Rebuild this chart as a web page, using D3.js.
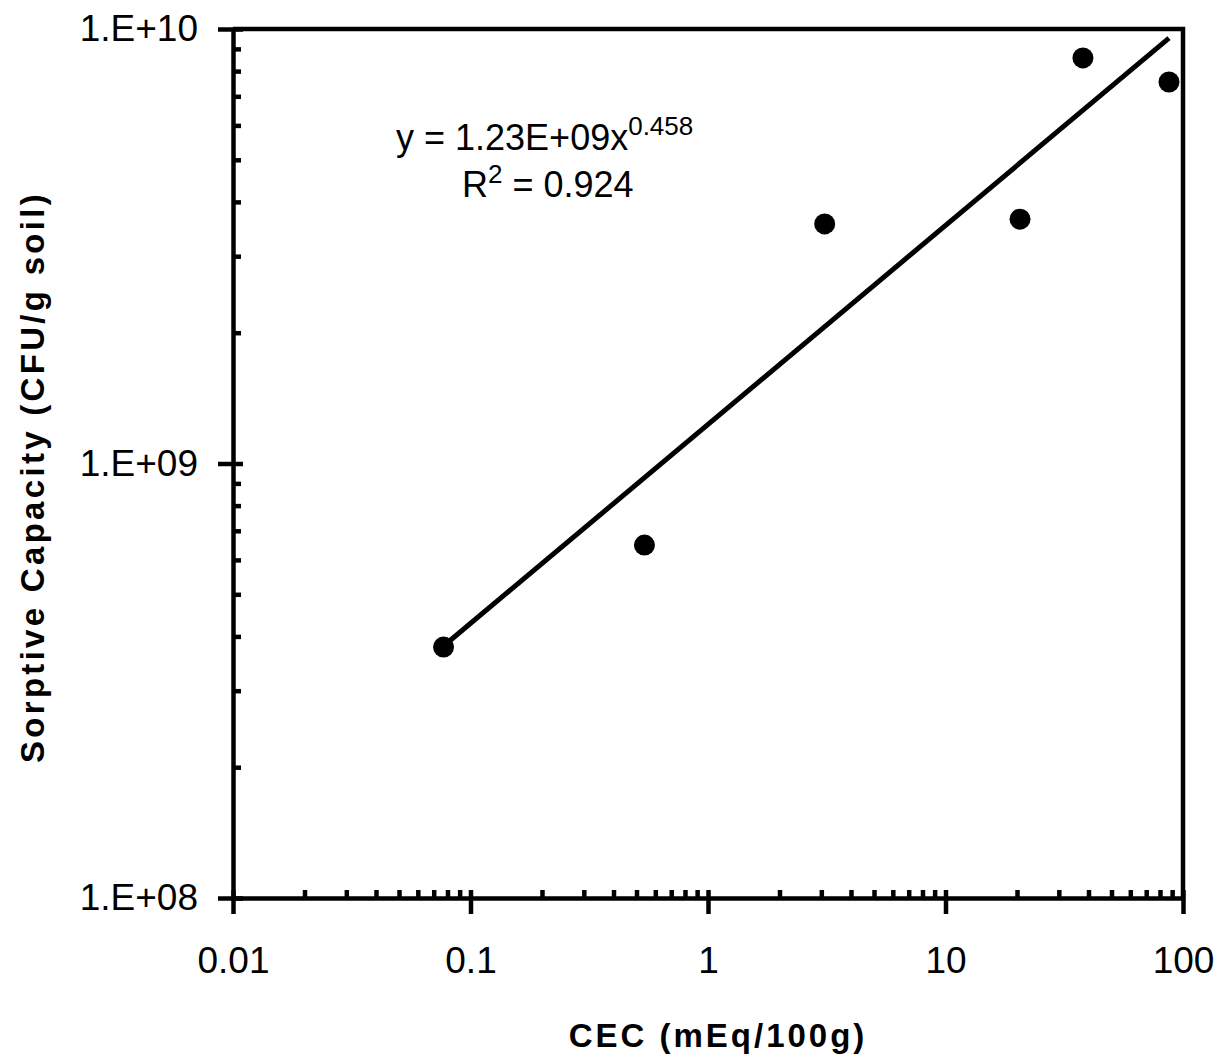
<!DOCTYPE html>
<html lang="en">
<head>
<meta charset="UTF-8">
<title>Sorptive Capacity vs CEC</title>
<script src="https://d3js.org/d3.v7.min.js"></script>
<style>
  body, html { margin: 0; padding: 0; background: #fff; overflow: hidden; }
  text { font-family: "Liberation Sans", Arial, sans-serif; fill: #000; }
  .axis path, .axis line { stroke: #000; stroke-width: 4.5px; }
  .axis .tick text { font-size: 37px; }
  .axis-title { font-size: 33px; font-weight: bold; letter-spacing: 3px; }
  .eq { font-size: 36px; }
</style>
</head>
<body>
<svg id="chart" width="1228" height="1062"></svg>
<script>
// measured points (CEC in mEq/100g, sorptive capacity in CFU/g soil)
const cec = [0.077, 0.54, 3.1, 20.6, 37.9, 87.3];
const capacity = [3.78e8, 6.49e8, 3.56e9, 3.65e9, 8.58e9, 7.55e9];

const xTickValues = [0.01, 0.1, 1, 10, 100];
const xTickLabels = ["0.01", "0.1", "1", "10", "100"];
const yTickValues = [1e8, 1e9, 1e10];
const yTickLabels = ["1.E+08", "1.E+09", "1.E+10"];

// power fit shown on the chart
const fitA = 1.23e9;
const fitB = 0.458;

const svg = d3.select("#chart");
const plotLeft = 233, plotRight = 1183, plotTop = 29, plotBottom = 898;

const x = d3.scaleLog().domain([0.01, 100]).range([plotLeft, plotRight]);
const y = d3.scaleLog().domain([1e8, 1e10]).range([plotBottom, plotTop]);

// minor ticks 2..9 in each decade
function minors(lo, hi) {
    const out = [];
    for (let d = lo; d < hi; d *= 10) {
        for (let k = 2; k <= 9; k++) out.push(d * k);
    }
    return out;
}

// x axis: major ticks poke out below, minor ticks point inside
const gx = svg.append("g").attr("class", "axis").attr("transform", `translate(0,${plotBottom})`);
gx.call(d3.axisBottom(x).tickValues(xTickValues).tickSize(16).tickSizeOuter(0)
    .tickPadding(33).tickFormat((d, i) => xTickLabels[i]));
svg.append("g").attr("class", "axis").attr("transform", `translate(0,${plotBottom})`)
    .call(d3.axisBottom(x).tickValues(xTickValues).tickSize(-8).tickSizeOuter(0).tickFormat(""))
    .select(".domain").remove();
svg.append("g").attr("class", "axis").attr("transform", `translate(0,${plotBottom})`)
    .call(d3.axisBottom(x).tickValues(minors(0.01, 100)).tickSize(-8).tickSizeOuter(0).tickFormat(""))
    .select(".domain").remove();

// y axis
const gy = svg.append("g").attr("class", "axis").attr("transform", `translate(${plotLeft},0)`);
gy.call(d3.axisLeft(y).tickValues(yTickValues).tickSize(15).tickSizeOuter(0)
    .tickPadding(20).tickFormat((d, i) => yTickLabels[i]));
svg.append("g").attr("class", "axis").attr("transform", `translate(${plotLeft},0)`)
    .call(d3.axisLeft(y).tickValues(yTickValues).tickSize(-10).tickSizeOuter(0).tickFormat(""))
    .select(".domain").remove();
svg.append("g").attr("class", "axis").attr("transform", `translate(${plotLeft},0)`)
    .call(d3.axisLeft(y).tickValues(minors(1e8, 1e10)).tickSize(-8).tickSizeOuter(0).tickFormat(""))
    .select(".domain").remove();

// top and right frame
svg.append("path")
    .attr("d", `M${plotLeft},${plotTop}H${plotRight}V${plotBottom}`)
    .attr("fill", "none").attr("stroke", "#000").attr("stroke-width", 4.5);

// trend line over the data range
const xs = d3.extent(cec);
svg.append("line")
    .attr("x1", x(xs[0])).attr("y1", y(fitA * Math.pow(xs[0], fitB)))
    .attr("x2", x(xs[1])).attr("y2", y(fitA * Math.pow(xs[1], fitB)))
    .attr("stroke", "#000").attr("stroke-width", 5);

// points
svg.append("g").selectAll("circle")
    .data(cec.map((c, i) => [c, capacity[i]]))
    .join("circle")
    .attr("cx", d => x(d[0]))
    .attr("cy", d => y(d[1]))
    .attr("r", 10.5)
    .attr("fill", "#000");

// equation
const eq = svg.append("text").attr("class", "eq").attr("x", 396).attr("y", 150);
eq.append("tspan").text("y = 1.23E+09x");
eq.append("tspan").attr("dy", -15).style("font-size", "26px").text("0.458");
const r2 = svg.append("text").attr("class", "eq").attr("x", 462).attr("y", 197);
r2.append("tspan").text("R");
r2.append("tspan").attr("dy", -14).style("font-size", "26px").text("2");
r2.append("tspan").attr("dy", 14).text(" = 0.924");

// axis titles
svg.append("text").attr("class", "axis-title")
    .attr("x", 718).attr("y", 1047)
    .attr("text-anchor", "middle")
    .text("CEC (mEq/100g)");
svg.append("text").attr("class", "axis-title")
    .style("letter-spacing", "3.3px")
    .attr("transform", `translate(44,477) rotate(-90)`)
    .attr("text-anchor", "middle")
    .text("Sorptive Capacity (CFU/g soil)");
</script>
</body>
</html>
